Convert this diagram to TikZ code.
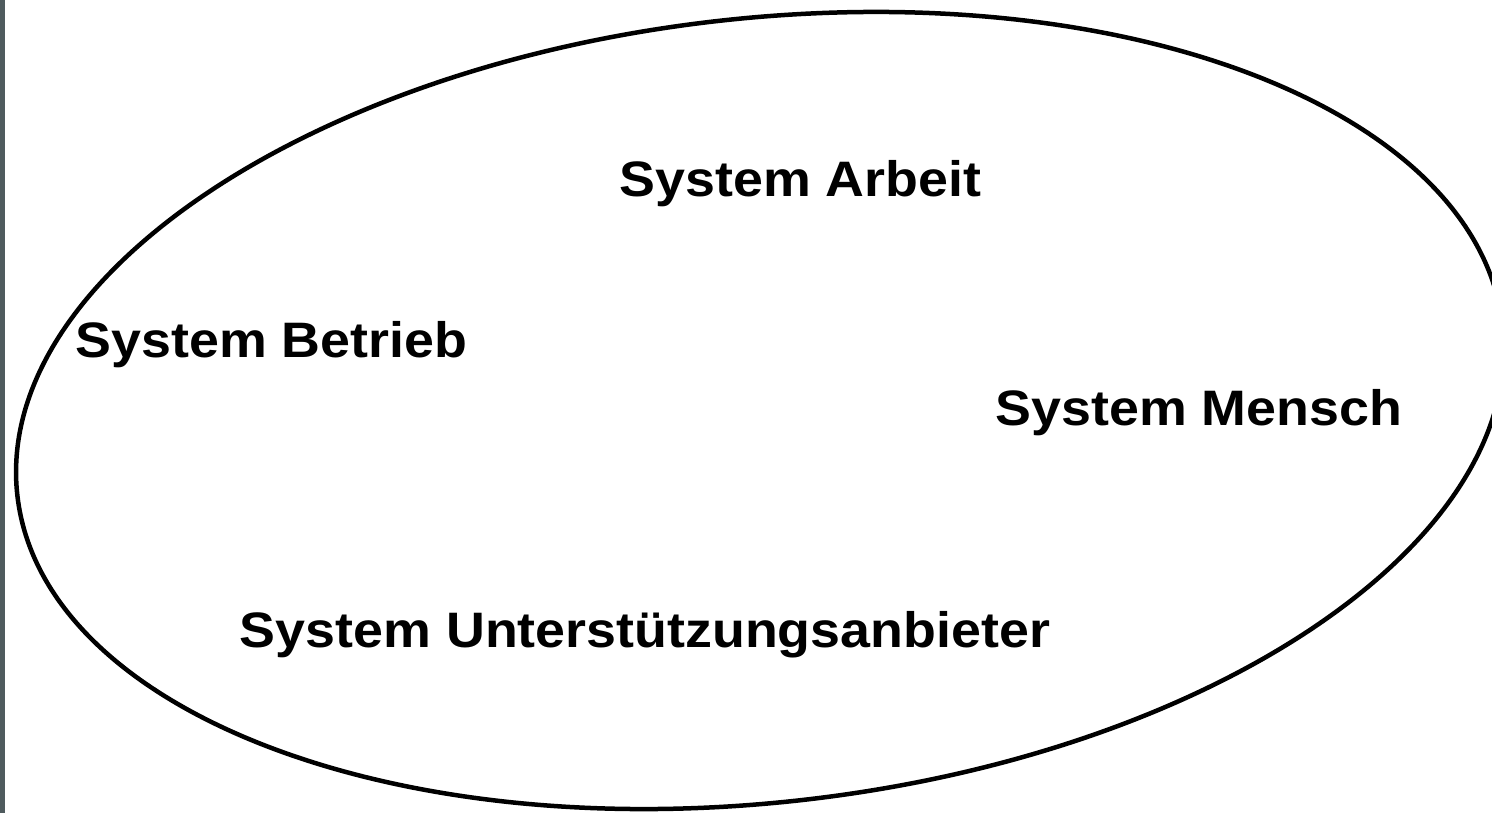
\documentclass[tikz,border=0pt]{standalone}
\usepackage{fontspec}
\setmainfont{Liberation Sans}
\definecolor{stripgray}{HTML}{4F5B5E}
\begin{document}
\begin{tikzpicture}[x=1bp,y=-1bp,
  lbl/.style={font=\fontsize{50}{60}\selectfont\bfseries, anchor=base, inner sep=0pt, xscale=1.08},
  outline/.style={draw=black, line width=4.5bp}]
\useasboundingbox (0,0) rectangle (1492,812);
\fill[white] (0,0) rectangle (1492,812);
\fill[stripgray] (0,-3) rectangle (5,815);
\draw[outline] (760,410.5) ellipse [x radius=747.5bp, y radius=391.8bp, rotate=6.56];
\node[lbl] (arbeit) at (800.5,196.7) {System Arbeit};
\node[lbl] (betrieb) at (271.5,357) {System Betrieb};
\node[lbl] (mensch) at (1199,425) {System Mensch};
\node[lbl] (unter) at (645,647) {System Unterstützungsanbieter};
\end{tikzpicture}
\end{document}
